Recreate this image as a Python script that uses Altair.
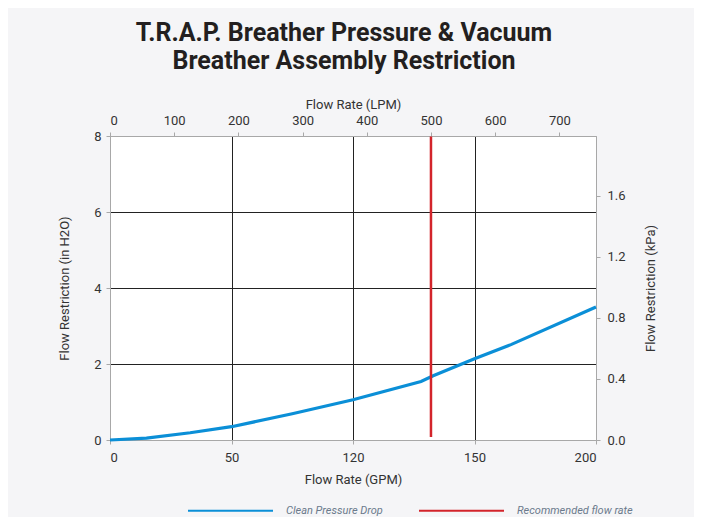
import altair as alt
import pandas as pd

title_lines = ["T.R.A.P. Breather Pressure & Vacuum", "Breather Assembly Restriction"]

flow_gpm = [0, 15, 33, 50, 75, 100, 128, 133, 150, 165, 200]
restriction_inh2o = [0, 0.05, 0.19, 0.35, 0.69, 1.06, 1.54, 1.69, 2.14, 2.51, 3.50]

series_names = ["Clean Pressure Drop", "Recommended flow rate"]
series_colors = ["#0b8fd7", "#d3242b"]

recommended_lpm = [500]
recommended_kpa_from = [0.02]
recommended_kpa_to = [1.99]

gpm_ticks = [0, 50, 100, 150, 200]
gpm_tick_labels = ["0", "50", "120", "150", "200"]
lpm_ticks = [0, 100, 200, 300, 400, 500, 600, 700]
inh2o_ticks = [0, 2, 4, 6, 8]
kpa_ticks = [0.0, 0.4, 0.8, 1.2, 1.6]

gpm_domain = [0, 200]
lpm_domain = [0, 757.08]
inh2o_domain = [0, 8]
kpa_domain = [0, 1.9927]

FONT = "Roboto"
TXT = "#333333"
EDGE = "#a8a8a8"
GRID = "#222222"

curve_df = pd.DataFrame({"gpm": flow_gpm, "inh2o": restriction_inh2o,
                         "series": [series_names[0]] * len(flow_gpm)})
rec_df = pd.DataFrame({"lpm": recommended_lpm, "kpa": recommended_kpa_from,
                       "kpa2": recommended_kpa_to, "series": [series_names[1]]})

label_expr = " : ".join(
    f"datum.value == {v} ? '{l}'" for v, l in zip(gpm_ticks, gpm_tick_labels)
) + " : datum.label"

color = alt.Color(
    "series:N",
    scale=alt.Scale(domain=series_names, range=series_colors),
    legend=alt.Legend(
        title=None, orient="none", direction="horizontal",
        legendX=77, legendY=331, padding=0,
        symbolType="stroke", symbolSize=7225, symbolStrokeWidth=2,
        labelFont=FONT, labelFontStyle="italic", labelFontSize=11,
        labelColor="#6b7a8c", labelOffset=12, columnPadding=32,
        labelLimit=300,
    ),
)


def grid_color(lo, hi):
    return {"condition": {"test": f"datum.value > {lo} && datum.value < {hi}", "value": GRID},
            "value": "transparent"}


curve = alt.Chart(curve_df).mark_line(strokeWidth=3.2).encode(
    x=alt.X("gpm:Q", scale=alt.Scale(domain=gpm_domain, nice=False),
            axis=alt.Axis(orient="bottom", values=gpm_ticks, labelExpr=label_expr,
                          title="Flow Rate (GPM)", grid=True, labelPadding=7,
                          titlePadding=9,
                          gridColor=grid_color(gpm_domain[0], gpm_domain[1]))),
    y=alt.Y("inh2o:Q", scale=alt.Scale(domain=inh2o_domain, nice=False),
            axis=alt.Axis(orient="left", values=inh2o_ticks,
                          title="Flow Restriction (in H2O)", grid=True, titlePadding=22,
                          gridColor=grid_color(inh2o_domain[0], inh2o_domain[1]))),
    color=color,
)

rec = alt.Chart(rec_df).mark_rule(strokeWidth=2.5).encode(
    x=alt.X("lpm:Q", scale=alt.Scale(domain=lpm_domain, nice=False),
            axis=alt.Axis(orient="top", values=lpm_ticks, title="Flow Rate (LPM)", grid=False,
                          titlePadding=3)),
    y=alt.Y("kpa:Q", scale=alt.Scale(domain=kpa_domain, nice=False),
            axis=alt.Axis(orient="right", values=kpa_ticks, format=".1f",
                          title="Flow Restriction (kPa)", grid=False, labelPadding=7,
                          titleAngle=270, titlePadding=32)),
    y2="kpa2:Q",
    color=color,
)

chart = (
    alt.layer(curve, rec)
    .resolve_scale(x="independent", y="independent")
    .properties(
        width=486, height=304,
        autosize=alt.AutoSizeParams(type="none"),
        padding={"left": 102, "top": 128, "right": 98, "bottom": 77},
        title=alt.TitleParams(title_lines, anchor="middle", fontSize=25, font=FONT,
                              fontWeight="bold", color="#231f20", lineHeight=28,
                              offset=24, dx=-9),
        background="#f5f5f7",
    )
    .configure_view(fill="white", stroke=EDGE, strokeWidth=1)
    .configure_axis(
        labelFont=FONT, titleFont=FONT, labelFontSize=13, titleFontSize=13,
        labelColor=TXT, titleColor=TXT, titleFontWeight="normal",
        domainColor=EDGE, tickColor=EDGE, tickSize=4, labelPadding=5,
        gridWidth=1,
    )
)

chart.save("out.html", embed_options={"renderer": "svg", "actions": False})
